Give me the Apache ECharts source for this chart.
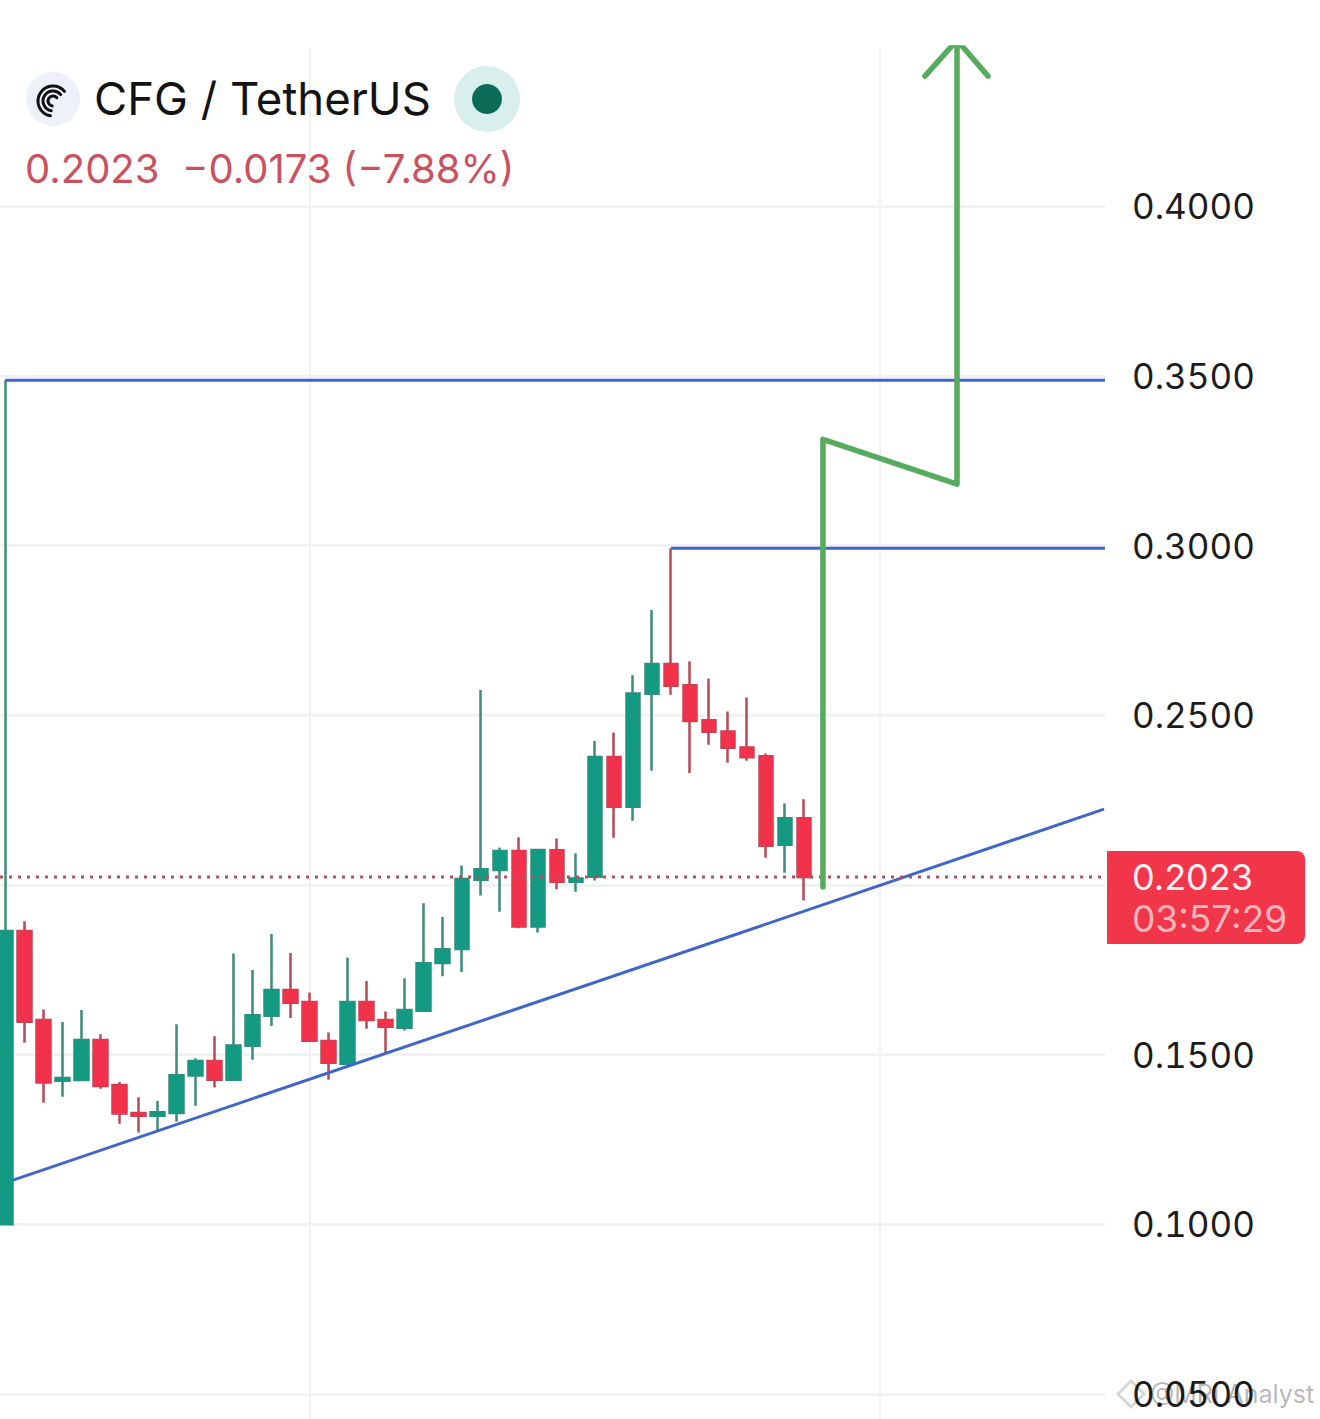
<!DOCTYPE html>
<html>
<head>
<meta charset="utf-8">
<style>html,body{margin:0;padding:0;background:#fff}#c{width:1320px;height:1419px}
#c text{font-variant-numeric:tabular-nums;font-feature-settings:"tnum" 1}</style>
<script src="https://cdn.jsdelivr.net/npm/echarts@6/dist/echarts.min.js"></script>
</head>
<body>
<div id="c"></div>
<script>
const opens  = [.1000,.1864,.1602,.1423,.1425,.1543,.1410,.1328,.1320,.1328,.1438,.1481,.1426,.1526,.1614,.1690,.1655,.1540,.1473,.1655,.1602,.1579,.1629,.1770,.1811,.2015,.2044,.2100,.1877,.2102,.2009,.2024,.2377,.2230,.2563,.2651,.2588,.2485,.2452,.2405,.2379,.2118,.2196];
const closes = [.1864,.1597,.1418,.1431,.1543,.1407,.1326,.1320,.1330,.1439,.1481,.1426,.1527,.1616,.1690,.1653,.1541,.1476,.1655,.1602,.1582,.1631,.1769,.1810,.2017,.2046,.2100,.1877,.2103,.2009,.2019,.2377,.2230,.2564,.2651,.2587,.2483,.2451,.2404,.2376,.2115,.2196,.2023];
const lows   = [.1000,.1535,.1358,.1376,.1423,.1399,.1296,.1270,.1278,.1302,.1349,.1403,.1426,.1485,.1584,.1608,.1539,.1426,.1469,.1576,.1503,.1571,.1629,.1731,.1743,.1969,.1921,.1872,.1860,.1987,.1980,.2013,.2139,.2189,.2336,.2560,.2330,.2413,.2360,.2366,.2080,.2036,.1954];
const highs  = [.3487,.1893,.1633,.1596,.1631,.1560,.1419,.1374,.1363,.1589,.1489,.1554,.1798,.1749,.1855,.1799,.1683,.1565,.1786,.1717,.1627,.1725,.1946,.1905,.2057,.2574,.2110,.2140,.2105,.2137,.2093,.2424,.2449,.2618,.2810,.2992,.2659,.2608,.2511,.2552,.2387,.2240,.2252];
const yTicks = [0.05,0.10,0.15,0.25,0.30,0.35,0.40];
const xGridTicks = [16,46];
const resistanceHigh = [[0,.3487],[57.82,.3487]];
const resistanceLow  = [[35,.2992],[57.82,.2992]];
const trendLine = [[0.405,.1130],[57.77,.2223]];
const lastPriceLine = [[-0.279,.2023],[57.82,.2023]];
const arrowPath = [[42.99,.1994],[42.99,.3313],[50.04,.3181],[50.04,.4489]];
const arrowHead = [[48.35,.4383],[50.04,.4489],[51.67,.4383]];
const candleRows = opens.map((o,i)=>[i,o,closes[i],lows[i],highs[i]]);
const bodyRows = opens.map((o,i)=>[i,o,closes[i],Math.min(o,closes[i]),Math.max(o,closes[i])]);

const FONT = 'Inter, "Noto Sans", sans-serif';
const blueLine = (data,w)=>({type:'line',data,symbol:'none',silent:true,z:5,lineStyle:{color:'#3f66c8',width:w||3}});
const chart = echarts.init(document.getElementById('c'),null,{renderer:'svg'});
chart.setOption({
  animation:false,
  backgroundColor:'#ffffff',
  grid:{left:0,top:48,width:1105,height:1515.6,containLabel:false,outerBoundsMode:'none'},
  xAxis:{type:'value',min:-0.279,max:57.82,
    axisLine:{show:false},axisLabel:{show:false},
    axisTick:{show:false,customValues:xGridTicks},
    splitLine:{show:true,lineStyle:{color:'#f1f2f4',width:2}}},
  yAxis:{type:'value',position:'right',min:0,max:0.4466,interval:0.05,
    axisLine:{show:false},axisTick:{show:false},
    axisLabel:{show:true,customValues:yTicks,margin:27,padding:[4,0,0,0],fontFamily:FONT,fontSize:35,color:'#1c1c1e',
      formatter:v=>v.toFixed(4)},
    splitLine:{show:true,showMaxLine:false,lineStyle:{color:'#f1f2f4',width:3}}},
  graphic:[
    {type:'circle',shape:{cx:53,cy:99,r:27},style:{fill:'#edf1fa'},z:10},
    {type:'arc',shape:{cx:53,cy:101,r:5,startAngle:100*Math.PI/180,endAngle:320*Math.PI/180,clockwise:true},style:{stroke:'#111',fill:'none',lineWidth:3,lineCap:'round'},z:11},
    {type:'arc',shape:{cx:53,cy:101,r:10,startAngle:100*Math.PI/180,endAngle:320*Math.PI/180,clockwise:true},style:{stroke:'#111',fill:'none',lineWidth:3,lineCap:'round'},z:11},
    {type:'arc',shape:{cx:53,cy:101,r:15,startAngle:100*Math.PI/180,endAngle:320*Math.PI/180,clockwise:true},style:{stroke:'#111',fill:'none',lineWidth:3,lineCap:'round'},z:11},
    {type:'text',x:94,y:98,style:{text:'CFG / TetherUS',font:'45.5px '+FONT,fill:'#131313',textVerticalAlign:'middle'},z:11},
    {type:'circle',shape:{cx:487,cy:99,r:33},style:{fill:'#d9efeb'},z:10},
    {type:'circle',shape:{cx:487,cy:99,r:15},style:{fill:'#0b6b57'},z:11},
    {type:'text',x:25,y:168,style:{text:'0.2023  \u22120.0173 (\u22127.88%)',font:'40px '+FONT,fill:'#c9525f',textVerticalAlign:'middle'},z:11},
    {type:'rect',shape:{x:1107,y:851,width:198,height:93,r:[0,8,8,0]},style:{fill:'#f2364a'},z:20},
    {type:'text',x:1132,y:877,style:{text:'0.2023',font:'36px '+FONT,fill:'#fdf0f1',textVerticalAlign:'middle'},z:21},
    {type:'text',x:1132,y:918,style:{text:'03:57:29',font:'37px '+FONT,fill:'#f9b4bc',textVerticalAlign:'middle'},z:21},
    {type:'polygon',shape:{points:[[1131,1381],[1144,1394],[1131,1407],[1118,1394]]},style:{fill:'none',stroke:'rgba(0,0,0,0.16)',lineWidth:3},z:21},
    {type:'text',x:1150,y:1394,style:{text:'@MRI Analyst',font:'25px '+FONT,fill:'rgba(0,0,0,0.30)',textVerticalAlign:'middle'},z:21}
  ],
  series:[
    {name:'wicks',type:'candlestick',data:candleRows,barWidth:14,silent:true,z:2,
      itemStyle:{color:'#3d8b7a',color0:'#b54a5a',borderColor:'#3d8b7a',borderColor0:'#b54a5a',borderWidth:2.5}},
    {name:'bodies',type:'candlestick',data:bodyRows,barWidth:14,silent:true,z:3,
      itemStyle:{color:'#149a82',color0:'#f2324a',borderColor:'#149a82',borderColor0:'#f2324a',borderWidth:1}},
    blueLine(resistanceHigh),
    blueLine(resistanceLow),
    blueLine(trendLine),
    {type:'line',data:lastPriceLine,symbol:'none',silent:true,z:6,lineStyle:{color:'#b5505c',width:3,type:[3,6]}},
    {type:'line',data:arrowPath,symbol:'none',silent:true,z:7,lineStyle:{color:'#57ab5c',width:5.5,join:'round',cap:'round'}},
    {type:'line',data:arrowHead,symbol:'none',silent:true,z:7,lineStyle:{color:'#57ab5c',width:5.5,cap:'round'}}
  ]
});
</script>
</body>
</html>
